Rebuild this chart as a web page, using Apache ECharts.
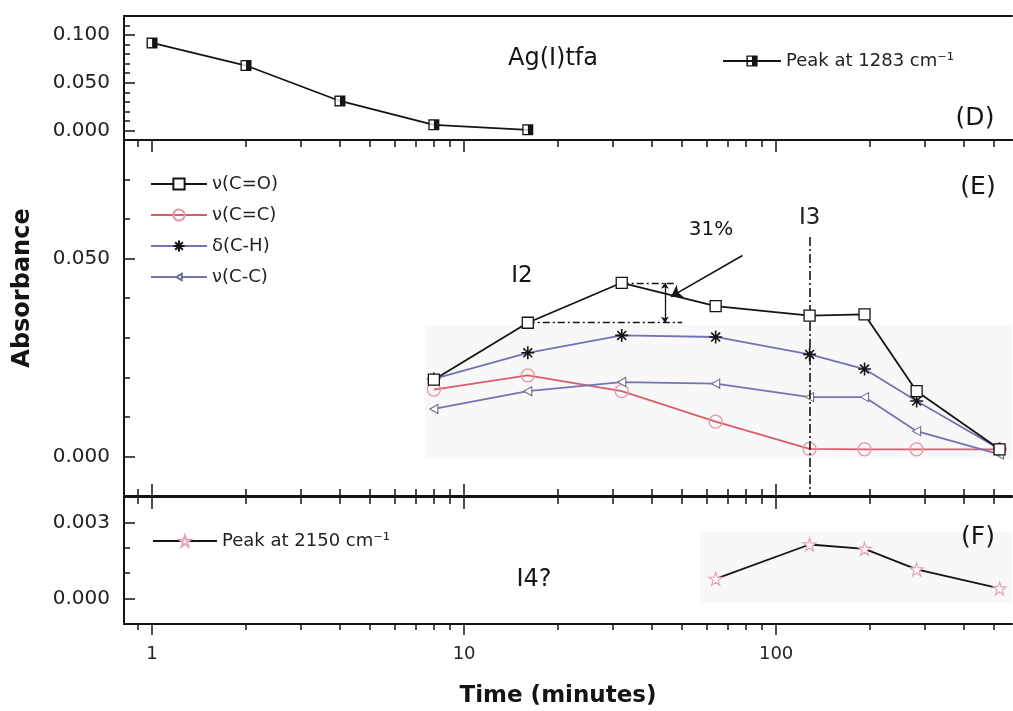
<!DOCTYPE html>
<html>
<head>
<meta charset="utf-8">
<title>Absorbance vs time</title>
<script src="https://cdn.jsdelivr.net/npm/echarts@6/dist/echarts.min.js"></script>
<style>
  html, body { margin: 0; padding: 0; background: #fff; }
  #chart { width: 1013px; height: 711px; }
</style>
</head>
<body>
<div id="chart"></div>
<script>
// ---- Panel D: Ag(I)tfa band ----
const timeD = [1, 2, 4, 8, 16];
const peak1283 = [0.0917, 0.0681, 0.0309, 0.0059, 0.0007];

// ---- Panel E: adsorbate bands ----
const timeE = [8, 16, 32, 64, 128, 192, 282, 520];
const nuCO = [0.0194, 0.0338, 0.0439, 0.0380, 0.0356, 0.0359, 0.0165, 0.0018];
const nuCC = [0.0169, 0.0205, 0.0165, 0.0088, 0.0019, 0.0018, 0.0018, 0.0018];
const deltaCH = [0.0196, 0.0262, 0.0306, 0.0302, 0.0258, 0.0221, 0.0140, 0.0019];
const nuCCsingle = [0.0120, 0.0165, 0.0188, 0.0184, 0.0150, 0.0150, 0.0064, 0.0005];

// ---- Panel F: 2150 cm-1 band ----
const timeF = [64, 128, 192, 282, 520];
const peak2150 = [0.00078, 0.00213, 0.00196, 0.00115, 0.0004];

// ---- Axis ticks ----
const xMin = 0.813, xMax = 570;
const xMajorTicks = [1, 10, 100];
const xTickLabels = ['1', '10', '100'];
const xMinorTicks = [0.9, 2, 3, 4, 5, 6, 7, 8, 9, 20, 30, 40, 50, 60, 70, 80, 90, 200, 300, 400, 500];

const yMajorD = [0, 0.05, 0.10];
const yMinorD = [0.01, 0.02, 0.03, 0.04, 0.06, 0.07, 0.08, 0.09, 0.11];
const yMajorE = [0, 0.05];
const yMinorE = [0.01, 0.02, 0.03, 0.04, 0.06, 0.07];
const yMajorF = [0, 0.003];
const yMinorF = [0.001, 0.002];

const INK = '#141414';
const FONT = "'DejaVu Sans', 'Liberation Sans', sans-serif";
const DASH_DOT = [7, 3, 2, 3];
const SHADE = '#f8f8f9';

const SYM_HALF_SQUARE = 'path://M0 0H10V10H0Z M1.3 1.3V8.7H5V1.3Z';
const SYM_ASTERISK = 'path://M5 0V10M0 5H10M1.6 1.6L8.4 8.4M8.4 1.6L1.6 8.4';
const SYM_STAR = 'path://M50 2L61.8 37.6H99.2L68.9 59.6L80.5 95.2L50 73.2L19.5 95.2L31.1 59.6L0.8 37.6H38.2Z';
// left-pointing triangle drawn inside a larger empty frame so it stays small
const SYM_TRI_LEFT = 'path://M0 0M12 12M3 6L9 2.6L9 9.4Z';

const pairs = (xs, ys) => xs.map((x, i) => [x, ys[i]]);
const lg = Math.log10;
const lMin = lg(xMin), lMax = lg(xMax);

// Decorative x axes in log10 units, aligned with the log data axis of each panel
function guideX(grid, position, o) {
  return {
    type: 'value', gridIndex: grid, position: position, min: lMin, max: lMax,
    axisLine: { show: !!o.line, onZero: false, lineStyle: { color: INK, width: 2 } },
    axisTick: o.ticks ? {
      show: true, inside: !!o.inside, length: o.len,
      customValues: o.ticks.map(lg), lineStyle: { color: INK, width: 1.5 }
    } : { show: false },
    axisLabel: o.labels ? {
      show: true, customValues: xMajorTicks.map(lg), margin: 21,
      fontFamily: FONT, fontSize: 18, color: '#222',
      formatter: v => xTickLabels[xMajorTicks.findIndex(t => Math.abs(lg(t) - v) < 1e-6)]
    } : { show: false },
    splitLine: { show: false }
  };
}
function dataX(grid) {
  return { type: 'log', logBase: 10, gridIndex: grid, min: xMin, max: xMax, show: false,
           axisLine: { onZero: false }, splitLine: { show: false } };
}
function yMajor(grid, min, max, ticks) {
  return {
    type: 'value', gridIndex: grid, position: 'left', min: min, max: max,
    axisLine: { show: true, onZero: false, lineStyle: { color: INK, width: 2 } },
    axisTick: { show: true, inside: true, length: 11, customValues: ticks, lineStyle: { color: INK, width: 1.5 } },
    axisLabel: { show: true, customValues: ticks, formatter: v => v.toFixed(3), margin: 14,
                 fontFamily: FONT, fontSize: 20, color: '#222' },
    splitLine: { show: false }
  };
}
function yMinor(grid, min, max, ticks) {
  return {
    type: 'value', gridIndex: grid, position: 'left', min: min, max: max,
    axisLine: { show: false, onZero: false },
    axisTick: { show: true, inside: true, length: 6, customValues: ticks, lineStyle: { color: INK, width: 1.5 } },
    axisLabel: { show: false },
    splitLine: { show: false }
  };
}
function note(text, x, y, size, extra) {
  return Object.assign({
    type: 'text', x: x, y: y, z: 100,
    style: Object.assign({ text: text, fontFamily: FONT, fontSize: size, fill: INK,
                           align: 'center', verticalAlign: 'middle' }, extra || {})
  });
}

const legendText = { fontFamily: FONT, fontSize: 18, color: '#222' };

const option = {
  animation: false,
  backgroundColor: '#fff',
  grid: [
    { left: 124, right: 1, top: 16, height: 124, outerBoundsMode: 'none', containLabel: false },
    { left: 124, right: 1, top: 140, height: 356, outerBoundsMode: 'none', containLabel: false },
    { left: 124, right: 1, top: 497, height: 127, outerBoundsMode: 'none', containLabel: false }
  ],
  xAxis: [
    dataX(0),                                                                   // 0
    guideX(0, 'bottom', { line: true }),                                        // 1
    guideX(0, 'top', { line: true }),                                           // 2
    dataX(1),                                                                   // 3
    guideX(1, 'top', { line: true, ticks: xMajorTicks, inside: true, len: 12 }), // 4
    guideX(1, 'top', { ticks: xMinorTicks, inside: true, len: 7 }),             // 5
    guideX(1, 'bottom', { line: true, ticks: xMajorTicks, inside: true, len: 12 }), // 6
    guideX(1, 'bottom', { ticks: xMinorTicks, inside: true, len: 7 }),          // 7
    dataX(2),                                                                   // 8
    guideX(2, 'top', { line: true, ticks: xMajorTicks, inside: true, len: 12 }), // 9
    guideX(2, 'top', { ticks: xMinorTicks, inside: true, len: 7 }),             // 10
    guideX(2, 'bottom', { line: true, ticks: xMajorTicks, inside: false, len: 11, labels: true }), // 11
    guideX(2, 'bottom', { ticks: xMinorTicks, inside: false, len: 6 })          // 12
  ],
  yAxis: [
    yMajor(0, -0.01, 0.12, yMajorD), yMinor(0, -0.01, 0.12, yMinorD),
    yMajor(1, -0.01, 0.08, yMajorE), yMinor(1, -0.01, 0.08, yMinorE),
    yMajor(2, -0.001, 0.004, yMajorF), yMinor(2, -0.001, 0.004, yMinorF)
  ],
  legend: [
    {
      data: ['Peak at 1283 cm⁻¹'], left: 717, top: 47,
      itemWidth: 58, itemHeight: 14, textStyle: legendText, selectedMode: false
    },
    {
      data: ['ν(C=O)', 'ν(C=C)', 'δ(C-H)', 'ν(C-C)'], orient: 'vertical',
      left: 145, top: 170, itemWidth: 56, itemHeight: 14, itemGap: 13,
      textStyle: legendText, selectedMode: false
    },
    {
      data: ['Peak at 2150 cm⁻¹'], left: 147, top: 527,
      itemWidth: 64, itemHeight: 14, textStyle: legendText, selectedMode: false
    }
  ],
  series: [
    // Panel D
    {
      name: 'Peak at 1283 cm⁻¹', type: 'line', xAxisIndex: 0, yAxisIndex: 0,
      data: pairs(timeD, peak1283),
      symbol: SYM_HALF_SQUARE, symbolSize: 11,
      itemStyle: { color: INK }, lineStyle: { color: INK, width: 1.8 }, z: 3
    },
    {
      type: 'scatter', xAxisIndex: 0, yAxisIndex: 0, data: pairs(timeD, peak1283),
      symbol: 'rect', symbolSize: [4.2, 8.2], symbolOffset: [-2.05, 0],
      itemStyle: { color: '#fff' }, silent: true, z: 4
    },
    // Panel E background shading
    {
      type: 'line', xAxisIndex: 3, yAxisIndex: 2, data: [], silent: true,
      markArea: {
        silent: true, itemStyle: { color: SHADE },
        data: [[{ coord: [7.5, 0.0332] }, { coord: [xMax, -0.0004] }]]
      }
    },
    {
      name: 'ν(C=C)', type: 'line', xAxisIndex: 3, yAxisIndex: 2,
      data: pairs(timeE, nuCC), symbol: 'circle', symbolSize: 13,
      itemStyle: { color: 'rgba(255,255,255,0)', borderColor: '#e19aa6', borderWidth: 1.3 },
      lineStyle: { color: '#d85d6a', width: 1.8 }, z: 3
    },
    {
      name: 'ν(C-C)', type: 'line', xAxisIndex: 3, yAxisIndex: 2,
      data: pairs(timeE, nuCCsingle), symbol: SYM_TRI_LEFT, symbolSize: 16,
      itemStyle: { color: '#fff', borderColor: '#6f6f8c', borderWidth: 1.1 },
      lineStyle: { color: '#7474b4', width: 1.8 }, z: 3
    },
    {
      name: 'δ(C-H)', type: 'line', xAxisIndex: 3, yAxisIndex: 2,
      data: pairs(timeE, deltaCH), symbol: SYM_ASTERISK, symbolSize: 13,
      itemStyle: { color: INK, borderColor: INK, borderWidth: 1.6 },
      lineStyle: { color: '#7272b6', width: 1.8 }, z: 4
    },
    {
      name: 'ν(C=O)', type: 'line', xAxisIndex: 3, yAxisIndex: 2,
      data: pairs(timeE, nuCO), symbol: 'rect', symbolSize: 11,
      itemStyle: { color: '#fff', borderColor: INK, borderWidth: 1.3 },
      lineStyle: { color: INK, width: 1.8 }, z: 5,
      markLine: {
        silent: true, animation: false, symbol: ['none', 'none'],
        label: { show: false },
        lineStyle: { color: INK, width: 1.3, type: DASH_DOT },
        data: [
          // reference levels of the maximum and of the preceding point
          [{ coord: [timeE[2], nuCO[2]] }, { coord: [48, nuCO[2]] }],
          [{ coord: [timeE[1], nuCO[1]] }, { coord: [50, nuCO[1]] }],
          // span between both levels
          [{ coord: [44, nuCO[2]], symbol: 'arrow', symbolSize: 6, lineStyle: { type: 'solid', width: 1.3 } },
           { coord: [44, nuCO[1]], symbol: 'arrow', symbolSize: 6 }],
          // pointer from the 31% note
          [{ coord: [78, 0.0508], lineStyle: { type: 'solid', width: 1.6 } },
           { coord: [46, 0.0404], symbol: 'arrow', symbolSize: 11 }],
          // I3 marker
          [{ coord: [timeE[4], 0.0555], lineStyle: { type: [9, 3, 2, 3], width: 1.6 },
             label: { show: true, position: 'start', formatter: 'I3', distance: 7,
                      fontFamily: FONT, fontSize: 23, color: '#222' } },
           { coord: [timeE[4], -0.01] }]
        ]
      }
    },
    // Panel F
    {
      type: 'line', xAxisIndex: 8, yAxisIndex: 4, data: [], silent: true,
      markArea: {
        silent: true, itemStyle: { color: SHADE },
        data: [[{ coord: [57, 0.00262] }, { coord: [xMax, -0.00017] }]]
      }
    },
    {
      name: 'Peak at 2150 cm⁻¹', type: 'line', xAxisIndex: 8, yAxisIndex: 4,
      data: pairs(timeF, peak2150), symbol: SYM_STAR, symbolSize: 13,
      itemStyle: { color: '#fff', borderColor: '#e7a3bd', borderWidth: 1.2 },
      lineStyle: { color: INK, width: 1.8 }, z: 3
    }
  ],
  graphic: [
    note('Ag(I)tfa', 508, 59, 24, { align: 'left' }),
    note('(D)', 975, 118, 25),
    note('(E)', 978, 187, 25),
    note('(F)', 978, 537, 25),
    note('I2', 522, 276, 23),
    note('31%', 711, 230, 20),
    note('I4?', 534, 580, 24),
    note('Time (minutes)', 558, 696, 23, { fontWeight: 'bold' }),
    Object.assign(note('Absorbance', 23, 288, 24, { fontWeight: 'bold' }), { rotation: Math.PI / 2 })
  ]
};

const chart = echarts.init(document.getElementById('chart'), null, { renderer: 'canvas' });
chart.setOption(option);
</script>
</body>
</html>
